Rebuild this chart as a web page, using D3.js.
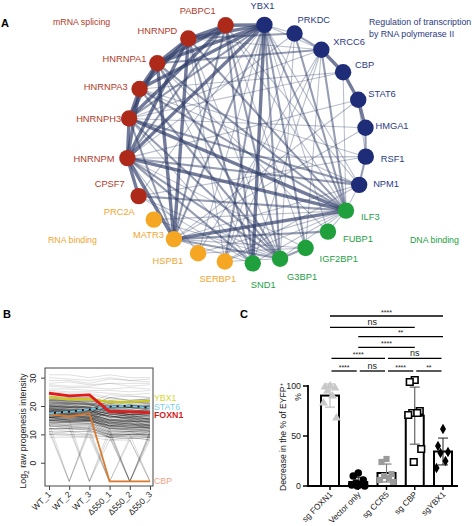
<!DOCTYPE html>
<html><head><meta charset="utf-8">
<script src="https://cdn.jsdelivr.net/npm/d3@7"></script>
<style>body{margin:0;background:#fff}svg{display:block;font-family:"Liberation Sans",Arial,sans-serif}</style>
</head><body><svg id="chart" width="474" height="526"></svg>
<script>
// ================= DATA =================
// Panel A: interaction network (clockwise from top)
const netNodes = ["YBX1","PRKDC","XRCC6","CBP","STAT6","HMGA1","RSF1","NPM1",
  "ILF3","FUBP1","IGF2BP1","G3BP1","SND1",
  "SERBP1","HSPB1","MATR3","PRC2A",
  "CPSF7","HNRNPM","HNRNPH3","HNRNPA3","HNRNPA1","HNRNPD","PABPC1"];
const netGroups = ["tx","tx","tx","tx","tx","tx","tx","tx",
  "dna","dna","dna","dna","dna",
  "rna","rna","rna","rna",
  "spl","spl","spl","spl","spl","spl","spl"];
const groupNames = ["mRNA splicing","Regulation of transcription|by RNA polymerase II","RNA binding","DNA binding"];
const groupKeys = ["spl","tx","rna","dna"];
const netEdges = [
["PABPC1","YBX1",3],["PABPC1","HNRNPD",3],["HNRNPD","HNRNPA1",3],["HNRNPA1","HNRNPA3",3],["HNRNPA3","HNRNPH3",3],["HNRNPH3","HNRNPM",3],["HNRNPM","CPSF7",3],
["PABPC1","HNRNPA1",3],["HNRNPD","HNRNPA3",3],["HNRNPA1","HNRNPH3",3],["HNRNPA3","HNRNPM",3],["HNRNPD","HNRNPM",3],["PABPC1","HNRNPH3",3],
["YBX1","HNRNPD",3],["YBX1","HNRNPA1",3],["YBX1","HNRNPM",3],["YBX1","HNRNPA3",3],
["MATR3","ILF3",3],["HNRNPM","ILF3",3],["HNRNPH3","ILF3",3],["HNRNPA1","MATR3",3],["HNRNPM","MATR3",3],["HNRNPD","MATR3",3],
["CBP","STAT6",3],["XRCC6","CBP",3],["STAT6","HMGA1",3],["PRKDC","XRCC6",2],
["YBX1","SND1",3],["YBX1","G3BP1",2],
["YBX1","HNRNPH3",2],["YBX1","MATR3",2],["YBX1","ILF3",2],["YBX1","SERBP1",2],["YBX1","IGF2BP1",2],
["PABPC1","HNRNPM",2],["PABPC1","G3BP1",2],["PABPC1","SND1",2],["PABPC1","MATR3",2],
["HNRNPD","ILF3",2],["HNRNPA1","ILF3",2],["HNRNPA3","ILF3",2],["HNRNPH3","MATR3",2],["HNRNPH3","G3BP1",2],
["HNRNPM","SND1",2],["HNRNPM","G3BP1",2],["HNRNPM","NPM1",2],["HNRNPH3","NPM1",2],["HNRNPA1","G3BP1",2],
["MATR3","G3BP1",2],["MATR3","FUBP1",2],["CPSF7","ILF3",2],["ILF3","XRCC6",2],["ILF3","PRKDC",2],
["HMGA1","RSF1",2],["RSF1","NPM1",2],["STAT6","RSF1",1],["XRCC6","HNRNPA1",2],["PRKDC","HNRNPD",2],["G3BP1","IGF2BP1",2],["HNRNPA3","G3BP1",2],["HNRNPD","SND1",2],
["YBX1","PRKDC",1],["YBX1","XRCC6",1],["YBX1","NPM1",1],["YBX1","HSPB1",1],["YBX1","FUBP1",1],["YBX1","CPSF7",1],
["PABPC1","IGF2BP1",1],["PABPC1","NPM1",1],["PABPC1","ILF3",1],["HNRNPD","SERBP1",1],["HNRNPD","G3BP1",1],["HNRNPA1","SND1",1],["HNRNPA1","FUBP1",1],
["HNRNPA3","NPM1",1],["HNRNPA3","RSF1",1],["HNRNPH3","HMGA1",1],["HNRNPH3","SND1",1],["HNRNPM","RSF1",1],["HNRNPM","IGF2BP1",1],["HNRNPM","HSPB1",1],
["CPSF7","G3BP1",1],["CPSF7","SND1",1],["PRC2A","ILF3",1],["PRC2A","G3BP1",1],["MATR3","IGF2BP1",1],["MATR3","SND1",1],["MATR3","NPM1",1],["MATR3","STAT6",1],
["HSPB1","XRCC6",1],["HSPB1","IGF2BP1",1],["HSPB1","ILF3",1],["SERBP1","G3BP1",1],["SERBP1","ILF3",1],["SERBP1","XRCC6",1],["SERBP1","PRKDC",1],
["SND1","ILF3",1],["SND1","XRCC6",1],["G3BP1","ILF3",1],["G3BP1","PRKDC",1],["IGF2BP1","XRCC6",1],["FUBP1","ILF3",1],["ILF3","NPM1",1],["ILF3","CBP",1],
["XRCC6","HNRNPH3",1],["PRKDC","HNRNPM",1],["CBP","HNRNPA3",1],["STAT6","HNRNPM",1],["RSF1","CPSF7",1],["NPM1","SERBP1",1],["HMGA1","MATR3",1],["XRCC6","HNRNPD",1],["CBP","HNRNPH3",1]
];

// Panel B: Log2 raw progenesis intensity
const conditions = ["WT_1","WT_2","WT_3","\u0394550_1","\u0394550_2","\u0394550_3"];
const yTicksB = [0,10,20,30];
const missingValue = -6.6;
const ybx1Intensity  = [23.1,22.4,22.4,21.4,21.4,21.8];
const stat6Intensity = [17.4,18.0,18.8,19.8,20.1,19.3];
const foxn1Intensity = [24.5,23.6,23.9,18.0,18.0,17.7];
const cbpIntensity   = [17.2,16.3,17.4,-6.6,-6.6,-6.6];
const otherProteins = [
[31,31,30,31,30,30],[30,29.5,29,30,29,29.5],[29,29,28,29.5,29,28.5],[28,28.5,27.5,28,28,28],
[27.5,27,27,28,27,27.5],[27,26.5,26.5,26,26.5,26],[26,26,25.5,25.5,25,25.5],[25.5,25,25,24.5,24,24.5],
[25,24.5,24.5,23,23.5,23],[24.5,24,24,22.5,22,22.5],[23.5,23,23,21,21.5,21],[23,22.5,22.5,21.5,20.5,21],
[22.5,22,22,20,20,20.5],[22,21.5,21.5,19.5,19,19.5],[22,22,21,20,19.5,19],[21.5,21,21,19,19.5,18.5],
[21,21,20.5,18.5,18,18.5],[21,20.5,20.5,19,18.5,18],[20.5,20,20,18,17.5,17.5],[20.5,20.5,19.5,18,17,17.5],
[20,19.5,19.5,17.5,17,17],[20,20,19,17,17.5,16.5],[19.5,19,19,17,16.5,16.5],[19.5,19.5,18.5,16.5,16,16],
[19,18.5,18.5,16,16,15.5],[19,19,18,16.5,15.5,15.5],[18.5,18,18,15.5,15,15],[18.5,18.5,17.5,15,15,14.5],
[18,17.5,17.5,15,14.5,14.5],[18,18,17,14.5,14,14],[17.5,17,17,14,14,13.5],[17.5,17.5,16.5,14,13.5,13],
[17,16.5,16.5,13.5,13,13],[17,17,16,13,13,12.5],[16.5,16,16,13,12.5,12.5],[16.5,16.5,15.5,12.5,12,12],
[16,15.5,15.5,12,12,11.5],[16,16,15,12,11.5,11.5],[15.5,15,15,11.5,11,11],[15,14.5,14.5,11,11,10.5],
[14.5,14,14,10.5,10.5,10],[14,13.5,13.5,10,10,10],[13.5,13,13,9.5,10,9.5],[13,12.5,12.5,9,9.5,9],
[12,12,11.5,9,8.5,9],[18,18,17.5,21,20,20],[17,17,17,20,19.5,20],[16,16.5,16,19,18,19],
[19,18.5,18.5,22,21,21.5],[15,15,15,18,17,17.5],[20,19.5,20,23,22,22.5],[21.5,21,21.5,24,23.5,23],
[18.5,18,18.5,16,17,15],[17,17.5,17,15,16,14],[16,15,15.5,14,15,13],[15,14.5,15,13,14,12],
[21.2,20.8,20.6,18.2,18.8,18.2],[20.2,19.8,19.6,17.8,16.8,17.2],[19.2,18.8,18.8,17.2,16.2,16.8],
[18.2,18.2,17.8,16.2,15.6,15.2],[17.2,17.2,16.8,15.2,14.6,14.2],[16.2,16.2,15.8,14.4,13.6,13.2],
[15.2,15.2,14.8,13.2,12.6,12.2],[14.2,14.2,13.8,12.2,11.6,11.2],[22.4,21.6,21.8,20.6,19.6,20.2],
[21.8,21.2,20.8,19.4,19.6,19.8],[19.8,19.6,19.4,18.6,18.2,17.6],[18.8,18.4,18.2,17.4,16.4,16.2],
[17.8,17.6,17.2,16.6,15.2,15.6],[16.8,16.6,16.2,14.8,14.4,14.8],[15.8,15.6,15.4,13.8,13.2,13.6],
[14.8,14.4,14.6,12.8,12.4,12.6],
[12,-6.6,12,10,9,11],[11,-6.6,11,9,10,10],[14,13,-6.6,10,11,9],[12,12,-6.6,8,9,8],
[10,11,11,-6.6,9,8],[11,10,10,9,-6.6,10],[12,11,11,10,-6.6,9],[13,12,12,11,-6.6,11],
[10,10,9.5,9,-6.6,-6.6],[9,9,9,-6.6,-6.6,8],[11,11,10,-6.6,8,-6.6],[12,12,12,10,10,-6.6],
[10,9.5,9,8,8,-6.6],[13,13,12,-6.6,-6.6,-6.6],[14,-6.6,13,11,-6.6,10],[16,15,-6.6,12,-6.6,11]
];

// Panel C: decrease in % of EYFP+
const guides = ["sg FOXN1","Vector only","sg CCR5","sg CBP","sgYBX1"];
const yTicksC = [0,50,100];
const foxn1Points  = [100,99,98,95,90,83,68];
const vectorPoints = [13,10,6,3,2,1,0,0,1];
const ccr5Points   = [27,24,12,10,8,6,4];
const cbpPoints    = [106,104,75,73,73,71,37,24];
const ybx1Points   = [57,40,34,33,25,18];
const comparisons = [
["sg FOXN1","sgYBX1","****"],["sg FOXN1","sg CBP","ns"],["Vector only","sgYBX1","**"],
["Vector only","sg CBP","****"],["sg FOXN1","sg CCR5","****"],["sg CCR5","sgYBX1","ns"],
["sg FOXN1","Vector only","****"],["Vector only","sg CCR5","ns"],["sg CCR5","sg CBP","****"],["sg CBP","sgYBX1","**"]
];

// ================= DRAW =================
const svg = d3.select("#chart");
const FONT = "'Liberation Sans',Arial,sans-serif";

[["A",1,27],["B",3,318],["C",240,318]].forEach(([t,x,y])=>{
  svg.append("text").attr("x",x).attr("y",y).attr("font-size",11).attr("font-weight","bold").text(t);
});

// ---------- Panel A ----------
const nodeFill = {spl:"#ad2a1b",tx:"#1f2c78",rna:"#f5a623",dna:"#1fa03c"};
const textFill = {spl:"#b13a28",tx:"#2b3a82",rna:"#f2a531",dna:"#22a043"};
const cx = 246.5, cy = 143.5, R = 120;
const angleScale = d3.scaleLinear().domain([0,4,8,12,17,19,21,23]).range([8.6,68.6,124,177,244,282,312,350]);
const pos = {};
netNodes.forEach((n,i)=>{
  const a = angleScale(i)*Math.PI/180;
  pos[n] = {x: cx + R*Math.sin(a), y: cy - R*Math.cos(a), g: netGroups[i]};
});
const wScale = d3.scaleOrdinal().domain([1,2,3]).range([1.1,2.1,3.4]);
const oScale = d3.scaleOrdinal().domain([1,2,3]).range([0.33,0.5,0.68]);
const gA = svg.append("g");
gA.selectAll("line.edge").data(netEdges).join("line").attr("class","edge")
  .attr("x1",d=>pos[d[0]].x).attr("y1",d=>pos[d[0]].y)
  .attr("x2",d=>pos[d[1]].x).attr("y2",d=>pos[d[1]].y)
  .attr("stroke","#2f3d68").attr("stroke-width",d=>wScale(d[2]))
  .attr("stroke-opacity",d=>oScale(d[2])).attr("stroke-linecap","round");
gA.selectAll("circle.node").data(netNodes).join("circle")
  .attr("cx",d=>pos[d].x).attr("cy",d=>pos[d].y).attr("r",8.2)
  .attr("fill",d=>nodeFill[pos[d].g]);
const labelPlace = {
 PABPC1:[-10,-11,"end"],HNRNPD:[-11,-5,"end"],HNRNPA1:[-11,-1,"end"],HNRNPA3:[-12,1,"end"],
 HNRNPH3:[-8,3.5,"end"],HNRNPM:[-13,4,"end"],CPSF7:[-14,-9,"end"],PRC2A:[-19,-5,"end"],
 MATR3:[-10,-1,"end"],HSPB1:[-15,11,"end"],SERBP1:[-7,20,"middle"],SND1:[-2,25,"start"],
 G3BP1:[7,21,"start"],IGF2BP1:[14,14,"start"],FUBP1:[15,10,"start"],ILF3:[15,9,"start"],
 NPM1:[14,2.5,"start"],RSF1:[15,5,"start"],HMGA1:[10,1.5,"start"],STAT6:[10,-3,"start"],
 CBP:[12,-4,"start"],XRCC6:[12,-5,"start"],PRKDC:[3,-11,"start"],YBX1:[-2,-16,"middle"]
};
gA.selectAll("text.nl").data(netNodes).join("text").attr("class","nl")
  .attr("x",d=>pos[d].x+labelPlace[d][0]).attr("y",d=>pos[d].y+labelPlace[d][1])
  .attr("text-anchor",d=>labelPlace[d][2]).attr("font-size",9.3)
  .attr("fill",d=>textFill[pos[d].g]).text(d=>d);
const groupLabelPos = {spl:[53,25],tx:[369,25],rna:[48,243],dna:[410,243]};
groupKeys.forEach((k,i)=>{
  const t = gA.append("text").attr("x",groupLabelPos[k][0]).attr("y",groupLabelPos[k][1])
    .attr("font-size",8.8).attr("fill",textFill[k]);
  groupNames[i].split("|").forEach((s,j)=>{
    t.append("tspan").attr("x",groupLabelPos[k][0]).attr("dy",j?11.5:0).text(s);
  });
});

// ---------- Panel B ----------
const gB = svg.append("g");
const xB = d3.scalePoint().domain(conditions).range([49,150]);
const yB = d3.scaleLinear().domain([-8.2,33.4]).range([486,368]);
const lineB = d3.line().x((d,i)=>xB(conditions[i])).y(d=>yB(d));
gB.selectAll("path.bg").data(otherProteins).join("path")
  .attr("d",lineB).attr("fill","none").attr("stroke","#000")
  .attr("stroke-width",0.9)
  .attr("stroke-opacity",d=>d.includes(missingValue)?0.16:(d3.max(d)>23.5?0.14:0.32));
gB.append("path").attr("d",lineB(cbpIntensity)).attr("fill","none").attr("stroke","#d97a2e").attr("stroke-width",1.8);
gB.append("path").attr("d",lineB(ybx1Intensity)).attr("fill","none").attr("stroke","#c9c726").attr("stroke-width",2.4);
gB.append("path").attr("d",lineB(stat6Intensity)).attr("fill","none").attr("stroke","#111").attr("stroke-width",1.8);
gB.append("path").attr("d",lineB(stat6Intensity)).attr("fill","none").attr("stroke","#72c8e6").attr("stroke-width",1.8).attr("stroke-dasharray","5,2");
gB.append("path").attr("d",lineB(foxn1Intensity)).attr("fill","none").attr("stroke","#e31b1b").attr("stroke-width",2.8);
gB.append("rect").attr("x",45).attr("y",368).attr("width",108).attr("height",118)
  .attr("fill","none").attr("stroke","#444").attr("stroke-width",1);
const yAxB = gB.append("g").attr("transform","translate(45,0)")
  .call(d3.axisLeft(yB).tickValues(yTicksB).tickSize(4).tickFormat(d3.format("d")));
yAxB.select(".domain").remove();
yAxB.selectAll(".tick line").attr("stroke","#444");
yAxB.selectAll(".tick text").attr("font-family",FONT).attr("font-size",8.5).attr("fill","#222")
  .attr("x",0).attr("dy",0).attr("text-anchor","middle")
  .attr("transform","translate(-9,0) rotate(-90)");
const xAxB = gB.append("g").attr("transform","translate(0,486)")
  .call(d3.axisBottom(xB).tickSize(4));
xAxB.select(".domain").remove();
xAxB.selectAll(".tick line").attr("stroke","#444");
xAxB.selectAll(".tick text").attr("font-family",FONT).attr("font-size",8.5).attr("fill","#222")
  .attr("y",0).attr("dy",0).attr("text-anchor","end")
  .attr("transform","translate(2,9) rotate(-45)");
const yTitleB = gB.append("text").attr("transform","translate(26,431) rotate(-90)")
  .attr("text-anchor","middle").attr("font-size",8.8).attr("fill","#222");
yTitleB.append("tspan").text("Log");
yTitleB.append("tspan").attr("font-size",6.5).attr("dy",2.5).text("2");
yTitleB.append("tspan").attr("dy",-2.5).text(" raw progenesis intensity");
[["YBX1",400.5,"#d6d62e","normal"],["STAT6",409.5,"#7fcfea","normal"],["FOXN1",418,"#d41c1c","bold"],["CBP",484,"#f2a283","normal"]]
 .forEach(([t,y,c,w])=>gB.append("text").attr("x",154).attr("y",y).attr("font-size",8.8)
   .attr("font-weight",w).attr("fill",c).text(t));

// ---------- Panel C ----------
const gC = svg.append("g");
const xC = d3.scalePoint().domain(guides).range([330,443]);
const yC = d3.scaleLinear().domain([0,100]).range([486,386]);
const pointSets = [foxn1Points,vectorPoints,ccr5Points,cbpPoints,ybx1Points];
const stats = pointSets.map(p=>({mean:d3.mean(p),sd:d3.deviation(p)}));
gC.selectAll("rect.bar").data(guides).join("rect")
  .attr("x",d=>xC(d)-9).attr("width",18)
  .attr("y",(d,i)=>yC(stats[i].mean)).attr("height",(d,i)=>yC(0)-yC(stats[i].mean))
  .attr("fill","#fff").attr("stroke","#000").attr("stroke-width",2);
const ebColor = ["#b8b8b8","#333","#777","#555","#333"];
guides.forEach((g,i)=>{
  const x = xC(g), s = stats[i];
  const top = yC(s.mean+s.sd), bot = yC(Math.max(0,s.mean-s.sd));
  gC.append("line").attr("x1",x).attr("x2",x).attr("y1",top).attr("y2",bot).attr("stroke",ebColor[i]).attr("stroke-width",1.1);
  gC.append("line").attr("x1",x-5).attr("x2",x+5).attr("y1",top).attr("y2",top).attr("stroke",ebColor[i]).attr("stroke-width",1.1);
  gC.append("line").attr("x1",x-5).attr("x2",x+5).attr("y1",bot).attr("y2",bot).attr("stroke",ebColor[i]).attr("stroke-width",1.1);
});
const jitter = [0,-5,5,-2.5,2.5,-6.5,6.5,-1,1];
const symbols = [d3.symbolTriangle,d3.symbolCircle,d3.symbolSquare,d3.symbolSquare,d3.symbolDiamond];
const symSize = [34,44,38,44,32];
const symFill = ["#c8c8c8","#000","#9a9a9a","#fff","#000"];
const symStroke = ["none","none","none","#000","none"];
pointSets.forEach((pts,i)=>{
  pts.forEach((v,j)=>{
    gC.append("path").attr("d",d3.symbol().type(symbols[i]).size(symSize[i])())
      .attr("transform",`translate(${xC(guides[i])+jitter[j]},${yC(v)})`)
      .attr("fill",symFill[i]).attr("stroke",symStroke[i]).attr("stroke-width",1.6);
  });
});
gC.append("line").attr("x1",308).attr("x2",308).attr("y1",yC(0)).attr("y2",yC(100)-1).attr("stroke","#000").attr("stroke-width",1.8);
gC.append("line").attr("x1",307).attr("x2",458).attr("y1",yC(0)).attr("y2",yC(0)).attr("stroke","#000").attr("stroke-width",1.8);
yTicksC.forEach(t=>{
  gC.append("line").attr("x1",303).attr("x2",308).attr("y1",yC(t)).attr("y2",yC(t)).attr("stroke","#000").attr("stroke-width",1.5);
  gC.append("text").attr("x",301).attr("y",yC(t)+3).attr("text-anchor","end").attr("font-size",8.8).attr("fill","#222").text(t);
});
guides.forEach(g=>{
  gC.append("line").attr("x1",xC(g)).attr("x2",xC(g)).attr("y1",486).attr("y2",490).attr("stroke","#000").attr("stroke-width",1.5);
  gC.append("text").attr("text-anchor","end").attr("font-size",8.3).attr("fill","#222")
    .attr("transform",`translate(${xC(g)+3},${495}) rotate(-45)`).text(g);
});
const yTitleC = gC.append("text").attr("transform","translate(286,437) rotate(-90)")
  .attr("text-anchor","middle").attr("font-size",8.6).attr("fill","#222");
yTitleC.append("tspan").text("Decrease in the % of EYFP");
yTitleC.append("tspan").attr("font-size",6).attr("dy",-3).text("+");
gC.append("text").attr("transform","translate(301,397) rotate(-90)").attr("text-anchor","middle")
  .attr("font-size",8.6).attr("fill","#222").text("%");
const sigRowY = [316,327.3,336.7,347.3,358.3,358.3,371,371,371,371];
comparisons.forEach(([a,b,lab],i)=>{
  const y = sigRowY[i];
  const x1 = xC(a)+ (i>=4?1.5:0), x2 = xC(b) - (i>=4?1.5:0);
  gC.append("line").attr("x1",x1).attr("x2",x2).attr("y1",y).attr("y2",y).attr("stroke","#000").attr("stroke-width",1.3);
  const star = lab.includes("*");
  gC.append("text").attr("x",(x1+x2)/2).attr("y",star?y-1.5:y-2.5).attr("text-anchor","middle")
    .attr("font-size",star?7:9).attr("fill","#222").text(lab);
});
</script></body></html>
